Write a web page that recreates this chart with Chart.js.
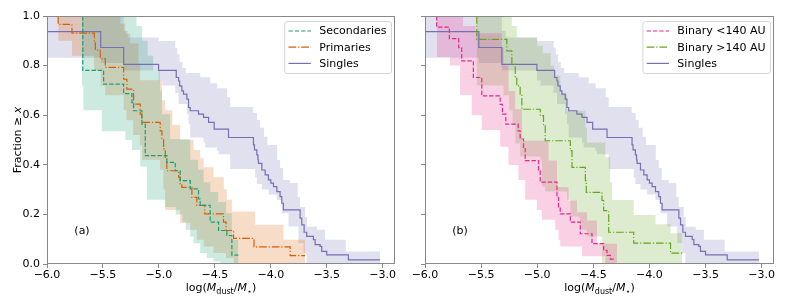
<!DOCTYPE html>
<html>
<head>
<meta charset="utf-8">
<script src="https://cdn.jsdelivr.net/npm/chart.js@4.4.0/dist/chart.umd.min.js"></script>
<style>
  html, body { margin: 0; padding: 0; background: #fff; }
  #wrap { position: relative; width: 789px; height: 307px; }
  .panel { position: absolute; top: 0; height: 307px; }
  #panelA { left: 0; width: 400px; }
  #panelB { left: 400px; width: 389px; }
</style>
</head>
<body>
<div id="wrap">
  <div class="panel" id="panelA"><canvas id="chartA"></canvas></div>
  <div class="panel" id="panelB"><canvas id="chartB"></canvas></div>
</div>
<script>
// tick labels
const xTicks = [-6.0, -5.5, -5.0, -4.5, -4.0, -3.5, -3.0];
const yTicks = [0.0, 0.2, 0.4, 0.6, 0.8, 1.0];

// [log(Mdust/M*), fraction >= x]  -- step points, value holds until next x
const singles = [[-6.0,0.937],[-5.52,0.873],[-5.315,0.805],[-5.003,0.781],[-4.845,0.752],[-4.824,0.738],[-4.815,0.718],[-4.795,0.698],[-4.78,0.685],[-4.75,0.665],[-4.735,0.631],[-4.72,0.618],[-4.646,0.604],[-4.601,0.591],[-4.556,0.571],[-4.506,0.544],[-4.378,0.51],[-4.155,0.48],[-4.146,0.46],[-4.125,0.44],[-4.115,0.42],[-4.11,0.406],[-4.08,0.379],[-4.05,0.359],[-4.021,0.339],[-4.0,0.326],[-3.976,0.312],[-3.946,0.292],[-3.917,0.272],[-3.902,0.245],[-3.887,0.218],[-3.738,0.185],[-3.723,0.158],[-3.702,0.128],[-3.679,0.111],[-3.619,0.098],[-3.604,0.078],[-3.56,0.071],[-3.545,0.051],[-3.5,0.037],[-3.307,0.017],[-3.024,0.017]];
const singlesHi = [[-6.0,1.0],[-5.315,0.94],[-5.28,0.913],[-5.003,0.899],[-4.854,0.872],[-4.835,0.846],[-4.815,0.815],[-4.79,0.79],[-4.76,0.77],[-4.631,0.753],[-4.542,0.729],[-4.479,0.709],[-4.39,0.672],[-4.363,0.633],[-4.158,0.609],[-4.123,0.581],[-4.096,0.549],[-4.06,0.513],[-4.03,0.48],[-3.943,0.419],[-3.917,0.387],[-3.89,0.339],[-3.828,0.327],[-3.76,0.27],[-3.739,0.23],[-3.694,0.19],[-3.676,0.15],[-3.587,0.138],[-3.515,0.098],[-3.33,0.05],[-3.024,0.05]];
const singlesLo = [[-6.0,0.832],[-5.52,0.81],[-5.315,0.78],[-5.003,0.74],[-4.97,0.72],[-4.854,0.69],[-4.824,0.645],[-4.75,0.604],[-4.735,0.564],[-4.72,0.51],[-4.601,0.49],[-4.586,0.47],[-4.482,0.457],[-4.467,0.443],[-4.363,0.383],[-4.14,0.35],[-4.125,0.323],[-4.08,0.30],[-4.02,0.28],[-3.946,0.258],[-3.902,0.205],[-3.842,0.151],[-3.753,0.084],[-3.708,0.044],[-3.679,0.0],[-3.024,0.0]];

const secondaries = [[-5.68,1.0],[-5.68,0.781],[-5.494,0.725],[-5.315,0.687],[-5.241,0.651],[-5.226,0.618],[-5.152,0.564],[-5.122,0.437],[-4.929,0.41],[-4.854,0.376],[-4.81,0.336],[-4.72,0.303],[-4.646,0.262],[-4.631,0.236],[-4.542,0.169],[-4.467,0.135],[-4.393,0.115],[-4.348,0.036],[-4.29,0.036]];
const secondariesHi = [[-5.69,1.0],[-5.2,0.96],[-5.15,0.90],[-5.10,0.84],[-5.05,0.78],[-4.99,0.70],[-4.973,0.604],[-4.899,0.504],[-4.72,0.42],[-4.65,0.38],[-4.60,0.33],[-4.54,0.29],[-4.47,0.25],[-4.40,0.205],[-4.348,0.098],[-4.29,0.0]];
const secondariesLo = [[-5.69,0.72],[-5.675,0.62],[-5.51,0.535],[-5.30,0.50],[-5.24,0.46],[-5.167,0.393],[-5.107,0.259],[-4.944,0.23],[-4.85,0.2],[-4.79,0.17],[-4.76,0.138],[-4.72,0.111],[-4.69,0.084],[-4.631,0.044],[-4.571,0.024],[-4.512,0.01],[-4.45,0.0],[-4.29,0.0]];

const primaries = [[-5.9,1.0],[-5.9,0.966],[-5.777,0.931],[-5.577,0.897],[-5.568,0.862],[-5.524,0.828],[-5.479,0.793],[-5.315,0.745],[-5.286,0.705],[-5.226,0.645],[-5.167,0.604],[-5.152,0.571],[-4.988,0.537],[-4.973,0.504],[-4.958,0.464],[-4.943,0.43],[-4.929,0.376],[-4.824,0.35],[-4.81,0.323],[-4.795,0.309],[-4.705,0.269],[-4.661,0.236],[-4.59,0.202],[-4.423,0.169],[-4.40,0.135],[-4.333,0.103],[-4.15,0.069],[-3.827,0.034],[-3.693,0.034]];
const primariesHi = [[-5.9,1.0],[-5.345,0.969],[-5.30,0.929],[-5.256,0.889],[-5.182,0.808],[-5.167,0.741],[-4.973,0.66],[-4.944,0.62],[-4.88,0.56],[-4.81,0.50],[-4.69,0.46],[-4.631,0.426],[-4.60,0.39],[-4.512,0.35],[-4.42,0.30],[-4.393,0.259],[-4.348,0.212],[-4.14,0.158],[-3.887,0.098],[-3.693,0.0]];
const primariesLo = [[-5.9,0.90],[-5.777,0.84],[-5.58,0.78],[-5.52,0.72],[-5.48,0.68],[-5.315,0.62],[-5.29,0.58],[-5.23,0.52],[-5.17,0.48],[-5.15,0.42],[-4.99,0.38],[-4.96,0.30],[-4.944,0.218],[-4.81,0.165],[-4.72,0.138],[-4.66,0.098],[-4.6,0.071],[-4.512,0.044],[-4.40,0.024],[-4.33,0.0],[-3.693,0.0]];

const closeBin = [[-5.896,1.0],[-5.896,0.955],[-5.783,0.909],[-5.70,0.872],[-5.673,0.819],[-5.569,0.752],[-5.494,0.678],[-5.33,0.644],[-5.31,0.604],[-5.28,0.564],[-5.17,0.537],[-5.152,0.504],[-5.122,0.47],[-5.107,0.417],[-4.988,0.376],[-4.973,0.33],[-4.824,0.269],[-4.81,0.229],[-4.795,0.202],[-4.705,0.169],[-4.616,0.122],[-4.512,0.082],[-4.408,0.055],[-4.378,0.035],[-4.348,0.02],[-4.318,0.02]];
const closeBinHi = [[-5.896,1.0],[-5.66,0.96],[-5.55,0.93],[-5.315,0.872],[-5.30,0.80],[-5.256,0.698],[-5.196,0.624],[-5.137,0.497],[-4.899,0.417],[-4.824,0.309],[-4.72,0.256],[-4.646,0.209],[-4.557,0.175],[-4.467,0.082],[-4.289,0.0]];
const closeBinLo = [[-5.896,0.835],[-5.777,0.80],[-5.6875,0.681],[-5.583,0.60],[-5.494,0.54],[-5.33,0.473],[-5.256,0.399],[-5.167,0.339],[-5.107,0.259],[-5.003,0.218],[-4.958,0.178],[-4.839,0.138],[-4.81,0.098],[-4.795,0.071],[-4.601,0.031],[-4.393,0.0],[-4.289,0.0]];

const wideBin = [[-5.539,1.0],[-5.539,0.906],[-5.271,0.859],[-5.226,0.805],[-5.196,0.752],[-5.182,0.718],[-5.152,0.685],[-5.137,0.624],[-4.973,0.598],[-4.944,0.557],[-4.929,0.497],[-4.705,0.457],[-4.69,0.39],[-4.571,0.336],[-4.563,0.289],[-4.423,0.256],[-4.408,0.215],[-4.363,0.128],[-4.14,0.084],[-3.812,0.044],[-3.708,0.044]];
const wideBinHi = [[-5.539,1.0],[-5.226,0.96],[-5.182,0.913],[-5.0,0.88],[-4.95,0.85],[-4.88,0.80],[-4.85,0.76],[-4.795,0.685],[-4.735,0.618],[-4.571,0.55],[-4.557,0.49],[-4.393,0.43],[-4.35,0.33],[-4.333,0.258],[-4.14,0.198],[-3.946,0.16],[-3.812,0.124],[-3.708,0.0]];
const wideBinLo = [[-5.539,0.72],[-5.30,0.68],[-5.25,0.62],[-5.22,0.56],[-5.196,0.486],[-5.152,0.433],[-4.973,0.42],[-4.958,0.312],[-4.929,0.292],[-4.735,0.259],[-4.705,0.192],[-4.631,0.185],[-4.616,0.138],[-4.557,0.111],[-4.423,0.0],[-3.708,0.0]];

const FONT = '"DejaVu Sans", sans-serif';
const AXIS = '#888';
const dashed = [4.4, 1.9];
const dashDot = [7.7, 1.9, 1.2, 1.9];

function pts(arr) {
    return arr.map(p => ({x: p[0], y: p[1]}));
}

function rgba(hex, a) {
    const n = parseInt(hex.slice(1), 16);
    return 'rgba(' + (n >> 16) + ',' + ((n >> 8) & 255) + ',' + (n & 255) + ',' + a + ')';
}

// 'before' in Chart.js = go horizontal first, then drop (value holds until next x)
function lineSet(label, arr, color, dash) {
    return {
        label: label, data: pts(arr), borderColor: color, borderWidth: 1.2,
        borderDash: dash, pointRadius: 0, stepped: 'before', fill: false, order: 0
    };
}

// upper curve fills down to the lower curve (next dataset)
function bandSets(hi, lo, color, idx) {
    return [
        {data: pts(hi), borderColor: 'rgba(0,0,0,0)', borderWidth: 1, pointRadius: 0,
         stepped: 'before', fill: {target: idx + 1}, backgroundColor: rgba(color, 0.22), order: 1},
        {data: pts(lo), borderColor: 'rgba(0,0,0,0)', borderWidth: 1, pointRadius: 0,
         stepped: 'before', fill: false, order: 1}
    ];
}

function fmt(v) {
    return (v < 0 ? '\u2212' : '') + Math.abs(v).toFixed(1);
}

function drawParts(ctx, parts, x, y) {
    parts.forEach(p => {
        ctx.font = p[1];
        ctx.fillText(p[0], x, y + p[2]);
        x += ctx.measureText(p[0]).width;
    });
}

function partsWidth(ctx, parts) {
    let w = 0;
    parts.forEach(p => { ctx.font = p[1]; w += ctx.measureText(p[0]).width; });
    return w;
}

const xLabelParts = [
    ['log(', '11px ' + FONT, 0],
    ['M', 'italic 11px ' + FONT, 0],
    ['dust', '8px ' + FONT, 2.5],
    ['/', '11px ' + FONT, 0],
    ['M', 'italic 11px ' + FONT, 0],
    ['\u22C6', '8px ' + FONT, 2.5],
    [')', '11px ' + FONT, 0]
];
const yLabelParts = [
    ['Fraction \u2265 ', '11px ' + FONT, 0],
    ['x', 'italic 11px ' + FONT, 0]
];

const decor = {
    id: 'decor',
    afterDraw(chart, args, opts) {
        const ctx = chart.ctx;
        const a = chart.chartArea;
        ctx.save();
        ctx.strokeStyle = AXIS;
        ctx.lineWidth = 1;
        ctx.strokeRect(Math.round(a.left) + 0.5, Math.round(a.top) + 0.5,
            Math.round(a.width) - 1, Math.round(a.height) - 1);

        ctx.fillStyle = '#000';
        ctx.textAlign = 'left';
        ctx.textBaseline = 'alphabetic';
        // x axis title
        const xw = partsWidth(ctx, xLabelParts);
        drawParts(ctx, xLabelParts, (a.left + a.right) / 2 - xw / 2, 291);

        // y axis title (left panel only)
        if (opts.yLabel) {
            ctx.save();
            ctx.translate(21, (a.top + a.bottom) / 2);
            ctx.rotate(-Math.PI / 2);
            const yw = partsWidth(ctx, yLabelParts);
            drawParts(ctx, yLabelParts, -yw / 2, 0);
            ctx.restore();
        }

        // panel tag
        ctx.font = '11px ' + FONT;
        ctx.textAlign = 'center';
        ctx.textBaseline = 'middle';
        ctx.fillText(opts.tag, a.left + 35, 231);

        // legend
        ctx.font = '11px ' + FONT;
        ctx.textAlign = 'left';
        let tw = 0;
        opts.legend.forEach(it => { tw = Math.max(tw, ctx.measureText(it.text).width); });
        const bw = 4.3 + 22.4 + 8.3 + tw + 4.5;
        const bh = 52;
        const bx = a.right - 4 - bw;
        const by = a.top + 5;
        ctx.beginPath();
        ctx.roundRect(bx + 0.5, by + 0.5, bw, bh, 2.5);
        ctx.fillStyle = 'rgba(255,255,255,0.8)';
        ctx.fill();
        ctx.strokeStyle = '#d6d6d6';
        ctx.lineWidth = 1;
        ctx.stroke();
        opts.legend.forEach((it, i) => {
            const ry = by + 10 + i * 16.2;
            ctx.beginPath();
            ctx.setLineDash(it.dash);
            ctx.strokeStyle = it.color;
            ctx.lineWidth = 1.2;
            ctx.moveTo(bx + 4.3, ry);
            ctx.lineTo(bx + 26.7, ry);
            ctx.stroke();
            ctx.setLineDash([]);
            ctx.fillStyle = '#000';
            ctx.textBaseline = 'middle';
            ctx.fillText(it.text, bx + 35, ry + 0.5);
        });
        ctx.restore();
    }
};

function makeScales(showYLabels, yWidth) {
    const grid = {drawOnChartArea: false, drawTicks: true, tickLength: 4, color: AXIS, tickColor: AXIS};
    return {
        x: {
            type: 'linear', min: -6, max: -2.89,
            afterBuildTicks: s => { s.ticks = xTicks.map(v => ({value: v})); },
            afterFit: s => { s.height = 43; },
            ticks: {callback: v => fmt(v), color: '#000', font: {family: FONT, size: 11},
                    padding: 1, maxRotation: 0, autoSkip: false},
            grid: grid, border: {display: false}
        },
        y: {
            type: 'linear', min: 0, max: 1,
            afterBuildTicks: s => { s.ticks = yTicks.map(v => ({value: v})); },
            afterFit: s => { s.width = yWidth; },
            ticks: {callback: v => showYLabels ? v.toFixed(1) : '', color: '#000',
                    font: {family: FONT, size: 11}, padding: 3, autoSkip: false},
            grid: grid, border: {display: false}
        }
    };
}

function makeChart(id, datasets, yLabels, yWidth, padRight, tag, legend) {
    return new Chart(document.getElementById(id).getContext('2d'), {
        type: 'line',
        data: {datasets: datasets},
        options: {
            responsive: true, maintainAspectRatio: false, animation: false, events: [],
            layout: {padding: {left: 0, top: 16, right: padRight, bottom: 0}},
            scales: makeScales(yLabels, yWidth),
            plugins: {
                legend: {display: false}, tooltip: {enabled: false},
                filler: {propagate: false},
                decor: {yLabel: yLabels, tag: tag, legend: legend}
            }
        },
        plugins: [decor]
    });
}

const C_SEC = '#1b9e77', C_PRI = '#d95f02', C_SING = '#7570b3', C_NEAR = '#e7298a', C_WIDE = '#66a61e';

const setsA = [
    lineSet('Secondaries', secondaries, C_SEC, dashed),
    lineSet('Primaries', primaries, C_PRI, dashDot),
    lineSet('Singles', singles, C_SING, []),
    ...bandSets(secondariesHi, secondariesLo, C_SEC, 3),
    ...bandSets(primariesHi, primariesLo, C_PRI, 5),
    ...bandSets(singlesHi, singlesLo, C_SING, 7)
];

const setsB = [
    lineSet('Binary <140 AU', closeBin, C_NEAR, dashed),
    lineSet('Binary >140 AU', wideBin, C_WIDE, dashDot),
    lineSet('Singles', singles, C_SING, []),
    ...bandSets(closeBinHi, closeBinLo, C_NEAR, 3),
    ...bandSets(wideBinHi, wideBinLo, C_WIDE, 5),
    ...bandSets(singlesHi, singlesLo, C_SING, 7)
];

makeChart('chartA', setsA, true, 47, 5, '(a)', [
    {text: 'Secondaries', color: C_SEC, dash: dashed},
    {text: 'Primaries', color: C_PRI, dash: dashDot},
    {text: 'Singles', color: C_SING, dash: []}
]);
makeChart('chartB', setsB, false, 25, 15, '(b)', [
    {text: 'Binary <140 AU', color: C_NEAR, dash: dashed},
    {text: 'Binary >140 AU', color: C_WIDE, dash: dashDot},
    {text: 'Singles', color: C_SING, dash: []}
]);
</script>
</body>
</html>
